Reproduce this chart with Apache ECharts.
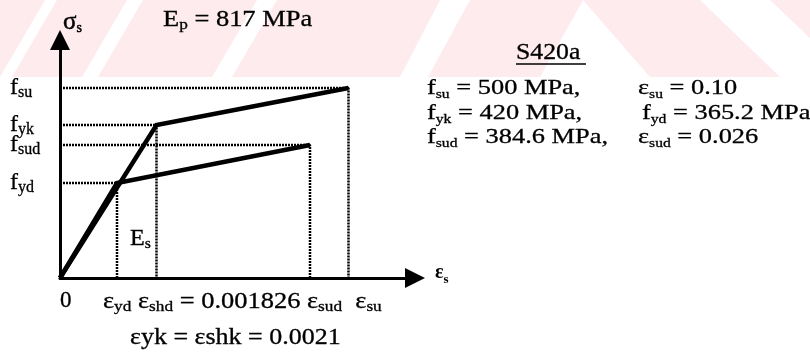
<!DOCTYPE html>
<html><head><meta charset="utf-8">
<script src="https://cdn.jsdelivr.net/npm/echarts@6/dist/echarts.min.js"></script>
<style>html,body{margin:0;padding:0;background:#fff}#c{width:810px;height:353px}</style>
</head><body><div id="c"></div>
<script>
// Schematic stress-strain diagram (diagram units, not to scale)
const strainNames = ['εyd', 'εyk = εshk', 'εsud', 'εsu'];
const strainPos   = [57, 96.5, 250, 288.5];      // schematic strain positions
const stressNames = ['fyd', 'fsud', 'fyk', 'fsu'];
const stressPos   = [95, 133, 153, 190];          // schematic stress positions
const stressTickLabels = ['{m|f}{s|yd}', '{m|f}{s|sud}', '{m|f}{s|yk}', '{m|f}{s|su}'];
const strainTickLabels = ['0'];
const strainTickValues = [0];
// design curve: 0 -> (εyd, fyd) -> (εsud, fsud)
const designStrain = [0, 57, 250];
const designStress = [0, 95, 133];
// characteristic curve: 0 -> (εyk, fyk) -> (εsu, fsu)
const charStrain = [0, 96.5, 288.5];
const charStress = [0, 153, 190];

const F = '"Liberation Serif","Times New Roman",serif';
// rich styles for ECharts labels (axis labels / names)
function rich(size, sub, weight, bw) {
  const b = bw === undefined ? 0.3 : bw;
  return {
    m: {fontFamily: F, fontSize: size, lineHeight: 26, verticalAlign: 'middle', color: '#000', fontWeight: weight || 'normal', textBorderColor: '#000', textBorderWidth: b},
    s: {fontFamily: F, fontSize: sub, lineHeight: 12, verticalAlign: 'bottom', color: '#000', fontWeight: weight || 'normal', textBorderColor: '#000', textBorderWidth: b}
  };
}
// rich styles for zrender graphic text
function grich(size, sub) {
  return {
    m: {fontFamily: F, fontSize: size, lineHeight: 26, verticalAlign: 'middle', fill: '#000', stroke: '#000', lineWidth: 0.3},
    s: {fontFamily: F, fontSize: sub, lineHeight: 12, verticalAlign: 'bottom', fill: '#000', stroke: '#000', lineWidth: 0.3}
  };
}
const R23 = grich(23, 15);
const R22 = grich(22, 13);
function txt(x, y, text, sx, r) {
  return {type: 'text', x: x, y: y, scaleX: sx || 1.15, z: 10, silent: true,
    style: {text: text, rich: r || R23, fill: '#000', align: 'left', verticalAlign: 'top'}};
}
const pink = '#fdebee';
function poly(pts, fill) {
  return {type: 'polygon', z: -10, silent: true, shape: {points: pts}, style: {fill: fill}};
}
const graphics = [
  poly([[0,0],[583,0],[540,77],[0,77]], pink),
  poly([[583,0],[700,0],[780,77],[650,77]], pink),
  poly([[770,0],[810,0],[810,38]], pink),
  poly([[0,77],[12,77],[57,0],[45,0]], '#fff'),
  poly([[82,77],[98,77],[143,0],[127,0]], '#fff'),
  poly([[212,77],[232,77],[277,0],[257,0]], '#fff'),
  poly([[400,77],[428,77],[470,0],[440,0]], '#fff'),
  txt(163, 7, '{m|E}{s|p}{m| = 817 MPa}'),
  txt(516, 40, '{m|S420a}', 1.12),
  {type: 'line', z: 10, silent: true, shape: {x1: 516, y1: 64, x2: 586, y2: 64}, style: {stroke: '#000', lineWidth: 1.5}},
  txt(427, 75.5, '{m|f}{s|su}{m| = 500 MPa,}', 1.2, R22),
  txt(638, 75.5, '{m|ε}{s|su}{m| = 0.10}', 1.2, R22),
  txt(427, 100.5, '{m|f}{s|yk}{m| = 420 MPa,}', 1.2, R22),
  txt(642, 100.5, '{m|f}{s|yd}{m| = 365.2 MPa}', 1.2, R22),
  txt(427, 124.5, '{m|f}{s|sud}{m| = 384.6 MPa,}', 1.2, R22),
  txt(638, 124.5, '{m|ε}{s|sud}{m| = 0.026}', 1.2, R22),
  txt(130, 226, '{m|E}{s|s}', 1.05),
  txt(103, 289, '{m|ε}{s|yd}{m| ε}{s|shd}{m| = 0.001826 ε}{s|sud}{m|  ε}{s|su}'),
  txt(130, 325, '{m|εyk = εshk = 0.0021}', 1.13)
];

function zip(a, b) { return a.map((v, i) => [v, b[i]]); }
const guideSeries = [];
[[designStrain, designStress], [charStrain, charStress]].forEach(([xs, ys]) => {
  for (let i = 1; i < xs.length; i++) {
    guideSeries.push({
      type: 'line', data: [[0, ys[i]], [xs[i], ys[i]], [xs[i], 0]],
      symbol: 'none', silent: true, z: 3,
      lineStyle: {color: '#000', width: 2.5, type: [2, 1]}
    });
  }
});

const chart = echarts.init(document.getElementById('c'), null, {renderer: 'canvas'});
chart.setOption({
  backgroundColor: '#fff',
  animation: false,
  grid: {left: 60, right: 395, top: 40, bottom: 75, containLabel: false, outerBoundsMode: 'none'},
  xAxis: {
    type: 'value', min: 0, max: 355,
    axisLine: {show: true, onZero: false, lineStyle: {color: '#000', width: 3}, symbol: ['none', 'triangle'], symbolSize: [20, 20]},
    axisTick: {show: false}, splitLine: {show: false},
    axisLabel: {customValues: strainTickValues, formatter: (v) => strainTickLabels[strainTickValues.indexOf(v)],
      align: 'left', margin: 11, color: '#000', fontFamily: F, fontSize: 23, textBorderColor: '#000', textBorderWidth: 0.3},
    name: '{m|ε}{s|s}', nameLocation: 'end', nameGap: 20,
    nameTextStyle: {rich: rich(20, 13, 'bold', 0), padding: [0, 0, 10, 0]}
  },
  yAxis: {
    type: 'value', min: 0, max: 238,
    axisLine: {show: true, onZero: false, lineStyle: {color: '#000', width: 3}, symbol: ['none', 'triangle'], symbolSize: [20, 20]},
    axisTick: {show: false}, splitLine: {show: false},
    axisLabel: {customValues: stressPos, formatter: (v) => stressTickLabels[stressPos.indexOf(v)],
      align: 'left', margin: 50, rich: rich(24, 16)},
    name: '{m|σ}{s|s}', nameLocation: 'end', nameGap: 5,
    nameTextStyle: {align: 'left', verticalAlign: 'bottom', padding: [0, 0, 0, 3], rich: rich(25, 14, 'normal', 0.5)}
  },
  graphic: graphics,
  series: guideSeries.concat([
    {type: 'line', name: 'design', data: zip(designStrain, designStress), symbol: 'none', z: 5,
     lineStyle: {color: '#000', width: 4.5, join: 'miter'}},
    {type: 'line', name: 'characteristic', data: zip(charStrain, charStress), symbol: 'none', z: 5,
     lineStyle: {color: '#000', width: 4.5, join: 'miter'}}
  ])
});
</script>
</body></html>
